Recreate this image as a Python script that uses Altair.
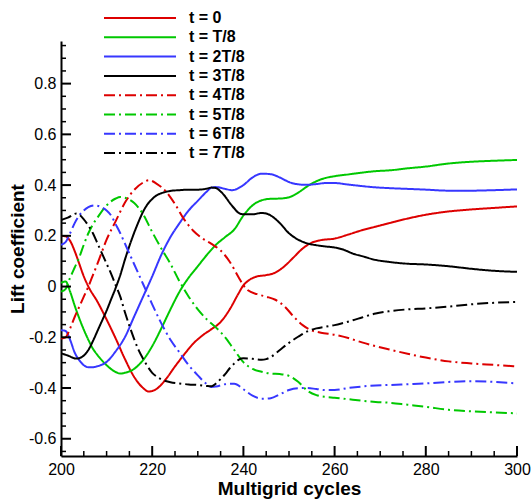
import altair as alt
import pandas as pd

# ---------------- data ----------------
SERIES = ["t = 0", "t = T/8", "t = 2T/8", "t = 3T/8",
          "t = 4T/8", "t = 5T/8", "t = 6T/8", "t = 7T/8"]
COLORS = ["#dd0000", "#00c800", "#3737ff", "#000000",
          "#dd0000", "#00c800", "#3737ff", "#000000"]
DASHES = [[1, 0], [1, 0], [1, 0], [1, 0],
          [11, 4, 2, 4], [11, 4, 2, 4], [11, 4, 2, 4], [11, 4, 2, 4]]

X_T0 = [200, 201, 202, 203, 204, 205, 206, 208, 210, 212, 214, 216, 218, 219.2, 221, 223,
        225, 227, 229, 231, 233, 235, 237, 239, 240, 241, 243, 245, 247, 249, 251, 253,
        255, 257, 260, 263, 266, 269, 272, 276, 280, 285, 290, 295, 300]
Y_T0 = [0.20, 0.198, 0.18, 0.14, 0.09, 0.04, 0.00, -0.06, -0.13, -0.205, -0.285, -0.355,
        -0.40, -0.414, -0.403, -0.365, -0.315, -0.268, -0.225, -0.193, -0.168, -0.14,
        -0.09, -0.025, 0.005, 0.022, 0.04, 0.045, 0.055, 0.08, 0.115, 0.15, 0.173, 0.183,
        0.189, 0.205, 0.222, 0.236, 0.25, 0.268, 0.283, 0.296, 0.304, 0.31, 0.316]

X_T1 = [200, 201, 202, 203, 204, 205, 206, 207, 208, 210, 212, 213, 214, 216, 218, 220,
        222, 224, 226, 228, 230, 232, 234, 236, 238, 240, 242, 244, 246, 248, 250, 252,
        254, 256, 258, 260, 263, 266, 269, 272, 276, 280, 285, 290, 295, 300]
Y_T1 = [0.015, 0.02, -0.02, -0.075, -0.125, -0.17, -0.21, -0.245, -0.27, -0.31, -0.337,
        -0.343, -0.34, -0.325, -0.29, -0.235, -0.165, -0.09, -0.02, 0.035, 0.08, 0.125,
        0.165, 0.195, 0.225, 0.28, 0.32, 0.34, 0.346, 0.347, 0.352, 0.37, 0.395, 0.415,
        0.428, 0.435, 0.442, 0.449, 0.455, 0.458, 0.466, 0.473, 0.485, 0.492, 0.496, 0.499]

X_T2 = [200, 201, 202, 203, 204, 205, 206, 207, 208, 210, 212, 214, 216, 218, 220, 222,
        224, 226, 228, 230, 232, 233, 234, 236, 237.5, 240, 242, 244, 246, 248, 250, 252,
        254, 256, 258, 260, 263, 266, 269, 272, 276, 280, 285, 290, 295, 300]
Y_T2 = [-0.172, -0.175, -0.21, -0.26, -0.29, -0.31, -0.318, -0.318, -0.314, -0.297,
        -0.255, -0.2, -0.12, -0.04, 0.04, 0.125, 0.195, 0.25, 0.30, 0.338, 0.375, 0.39,
        0.392, 0.385, 0.38, 0.40, 0.43, 0.445, 0.443, 0.43, 0.412, 0.403, 0.401, 0.404,
        0.408, 0.408, 0.402, 0.396, 0.391, 0.388, 0.385, 0.382, 0.378, 0.378, 0.38, 0.383]

X_T3 = [200, 201.5, 203.4, 205, 206, 207, 208, 209, 210, 211, 212, 213, 214, 215, 216,
        217, 218, 219, 220, 221, 222, 224, 226, 228, 230, 232, 233, 234, 235, 236, 237,
        238, 239, 240, 242, 244, 245, 246, 248, 250, 252, 254, 256, 258, 260, 262, 264,
        266, 269, 272, 276, 280, 285, 290, 295, 300]
Y_T3 = [-0.263, -0.272, -0.284, -0.272, -0.25, -0.215, -0.175, -0.135, -0.095, -0.05,
        -0.005, 0.045, 0.105, 0.16, 0.21, 0.255, 0.295, 0.325, 0.345, 0.36, 0.368, 0.377,
        0.38, 0.382, 0.382, 0.386, 0.39, 0.388, 0.375, 0.355, 0.33, 0.308, 0.29, 0.285,
        0.285, 0.29, 0.288, 0.28, 0.25, 0.21, 0.185, 0.17, 0.163, 0.158, 0.154, 0.145,
        0.13, 0.12, 0.105, 0.097, 0.09, 0.087, 0.08, 0.07, 0.062, 0.058]

X_T4 = [200, 201, 202, 203, 204, 205, 206, 207, 208, 210, 212, 214, 216, 218, 219.3, 221,
        223, 225, 227, 229, 231, 233, 235, 237, 239, 240, 241, 243, 245, 247, 249, 251,
        253, 255, 257, 260, 263, 266, 269, 272, 276, 280, 285, 290, 295, 300]
Y_T4 = [-0.205, -0.20, -0.165, -0.12, -0.08, -0.04, 0.0, 0.045, 0.09, 0.185, 0.258,
        0.33, 0.38, 0.41, 0.419, 0.405, 0.375, 0.325, 0.265, 0.22, 0.19, 0.168, 0.142,
        0.098, 0.035, 0.005, -0.015, -0.03, -0.04, -0.052, -0.078, -0.118, -0.152, -0.173,
        -0.182, -0.19, -0.203, -0.22, -0.235, -0.248, -0.265, -0.28, -0.295, -0.303,
        -0.309, -0.315]

X_T5 = [200, 201, 202, 203, 204, 205, 206, 207, 208, 210, 212, 213, 214, 216, 218, 220,
        222, 224, 226, 228, 230, 232, 234, 236, 238, 240, 242, 244, 246, 248, 250, 252,
        254, 256, 258, 260, 263, 266, 269, 272, 276, 280, 285, 290, 295, 300]
Y_T5 = [-0.02, -0.01, 0.035, 0.075, 0.115, 0.165, 0.21, 0.245, 0.272, 0.32, 0.347, 0.353,
        0.35, 0.33, 0.285, 0.215, 0.15, 0.09, 0.02, -0.04, -0.09, -0.13, -0.162, -0.2,
        -0.25, -0.298, -0.325, -0.336, -0.343, -0.345, -0.352, -0.375, -0.41, -0.428,
        -0.435, -0.438, -0.444, -0.45, -0.455, -0.458, -0.466, -0.474, -0.486, -0.492,
        -0.496, -0.50]

X_T6 = [200, 201, 202, 203, 204, 205, 206, 207.4, 209, 210, 211, 212, 213, 214, 215, 216,
        217, 218, 219, 220, 222, 224, 226, 228, 230, 232, 233, 234, 236, 238, 240, 242,
        244, 246, 248, 250, 252, 254, 256, 258, 260, 263, 266, 269, 272, 276, 280, 285,
        290, 295, 300]
Y_T6 = [0.165, 0.175, 0.21, 0.25, 0.28, 0.30, 0.313, 0.32, 0.312, 0.30, 0.28, 0.245,
        0.21, 0.17, 0.13, 0.09, 0.05, 0.01, -0.03, -0.07, -0.145, -0.21, -0.26, -0.31,
        -0.35, -0.385, -0.396, -0.394, -0.385, -0.383, -0.405, -0.43, -0.442, -0.44,
        -0.425, -0.408, -0.401, -0.40, -0.404, -0.408, -0.408, -0.40, -0.394, -0.39,
        -0.388, -0.385, -0.382, -0.376, -0.373, -0.376, -0.382]

X_T7 = [200, 201.5, 203.4, 205, 206, 207, 208, 209, 210, 211, 212, 213, 214, 215, 216,
        217, 218, 219, 220, 221, 222, 224, 226, 228, 230, 232, 233, 234, 235, 236, 237,
        238, 239, 240, 242, 244, 245, 246, 248, 250, 252, 254, 256, 258, 260, 262, 264,
        266, 269, 272, 276, 280, 285, 290, 295, 300]
Y_T7 = [0.262, 0.272, 0.288, 0.265, 0.24, 0.21, 0.17, 0.13, 0.09, 0.05, 0.005, -0.04,
        -0.1, -0.155, -0.205, -0.25, -0.285, -0.315, -0.34, -0.355, -0.366, -0.377,
        -0.382, -0.386, -0.388, -0.392, -0.393, -0.382, -0.365, -0.345, -0.322, -0.303,
        -0.288, -0.283, -0.285, -0.289, -0.286, -0.278, -0.25, -0.222, -0.198, -0.177,
        -0.165, -0.158, -0.152, -0.143, -0.133, -0.122, -0.106, -0.097, -0.09, -0.086,
        -0.079, -0.07, -0.064, -0.061]

X_TICKS = [200, 220, 240, 260, 280, 300]
X_MINOR = [205, 210, 215, 225, 230, 235, 245, 250, 255, 265, 270, 275, 285, 290, 295]
Y_TICKS = [-0.6, -0.4, -0.2, 0, 0.2, 0.4, 0.6, 0.8]
Y_MINOR = [-0.65, -0.55, -0.5, -0.45, -0.35, -0.3, -0.25, -0.15, -0.1, -0.05,
           0.05, 0.1, 0.15, 0.25, 0.3, 0.35, 0.45, 0.5, 0.55, 0.65, 0.7, 0.75, 0.85, 0.9, 0.95]

X_DOMAIN = [200, 300]
Y_DOMAIN = [-0.668, 0.968]

# ---------------- build table ----------------
XS = [X_T0, X_T1, X_T2, X_T3, X_T4, X_T5, X_T6, X_T7]
YS = [Y_T0, Y_T1, Y_T2, Y_T3, Y_T4, Y_T5, Y_T6, Y_T7]
rows = []
for name, xs, ys in zip(SERIES, XS, YS):
    for xv, yv in zip(xs, ys):
        rows.append({"series": name, "x": xv, "y": yv})
df = pd.DataFrame(rows)

W, H = 456, 415
FONT = "Liberation Sans"

xscale = alt.Scale(domain=X_DOMAIN, nice=False, zero=False, padding=0)
yscale = alt.Scale(domain=Y_DOMAIN, nice=False, zero=False, padding=0)

X_AXIS = alt.Axis(values=X_TICKS, ticks=False, grid=False, labelPadding=5,
                  labelFlush=False, labelExpr="toString(datum.value)",
                  title="Multigrid cycles", titlePadding=2)
Y_AXIS = alt.Axis(values=Y_TICKS, ticks=False, grid=False, labelPadding=5,
                  labelFlush=False, labelExpr="toString(datum.value)",
                  title="Lift coefficient", titlePadding=1)

legend = alt.Legend(
    title=None, orient="none", legendX=42, legendY=-31,
    symbolType="stroke", symbolSize=5184, symbolStrokeWidth=2,
    clipHeight=16, rowPadding=3.3, labelOffset=12, padding=0,
    labelFont=FONT, labelFontSize=16, labelFontWeight="bold", labelColor="black",
)

lines = alt.Chart(df).mark_line(strokeWidth=2, interpolate="monotone", clip=True).encode(
    x=alt.X("x:Q", scale=xscale, axis=X_AXIS),
    y=alt.Y("y:Q", scale=yscale, axis=Y_AXIS),
    color=alt.Color("series:N", scale=alt.Scale(domain=SERIES, range=COLORS), legend=legend),
    strokeDash=alt.StrokeDash("series:N", scale=alt.Scale(domain=SERIES, range=DASHES),
                              legend=legend),
)

ymaj = alt.Chart(pd.DataFrame({"y": Y_TICKS})).mark_rule(color="black", strokeWidth=2).encode(
    y=alt.Y("y:Q", scale=yscale, axis=Y_AXIS), x=alt.value(0), x2=alt.value(10))
ymin = alt.Chart(pd.DataFrame({"y": Y_MINOR})).mark_rule(color="black", strokeWidth=1.5).encode(
    y=alt.Y("y:Q", scale=yscale, axis=Y_AXIS), x=alt.value(0), x2=alt.value(5))
xmaj = alt.Chart(pd.DataFrame({"x": X_TICKS})).mark_rule(color="black", strokeWidth=2).encode(
    x=alt.X("x:Q", scale=xscale, axis=X_AXIS), y=alt.value(H), y2=alt.value(H - 10))
xmin = alt.Chart(pd.DataFrame({"x": X_MINOR})).mark_rule(color="black", strokeWidth=1.5).encode(
    x=alt.X("x:Q", scale=xscale, axis=X_AXIS), y=alt.value(H), y2=alt.value(H - 5))

chart = alt.layer(lines, ymaj, ymin, xmaj, xmin).properties(
    width=W, height=H,
    autosize=alt.AutoSizeParams(type="none"),
    padding={"left": 61, "top": 41, "right": 14, "bottom": 43},
    background="white",
).configure_view(stroke=None).configure_axis(
    domainColor="black", domainWidth=2, labelFont=FONT, labelFontSize=16,
    labelColor="black", titleFont=FONT, titleFontSize=19, titleFontWeight="bold",
    titleColor="black",
)

chart.save("out.html", embed_options={"renderer": "svg", "actions": False})
